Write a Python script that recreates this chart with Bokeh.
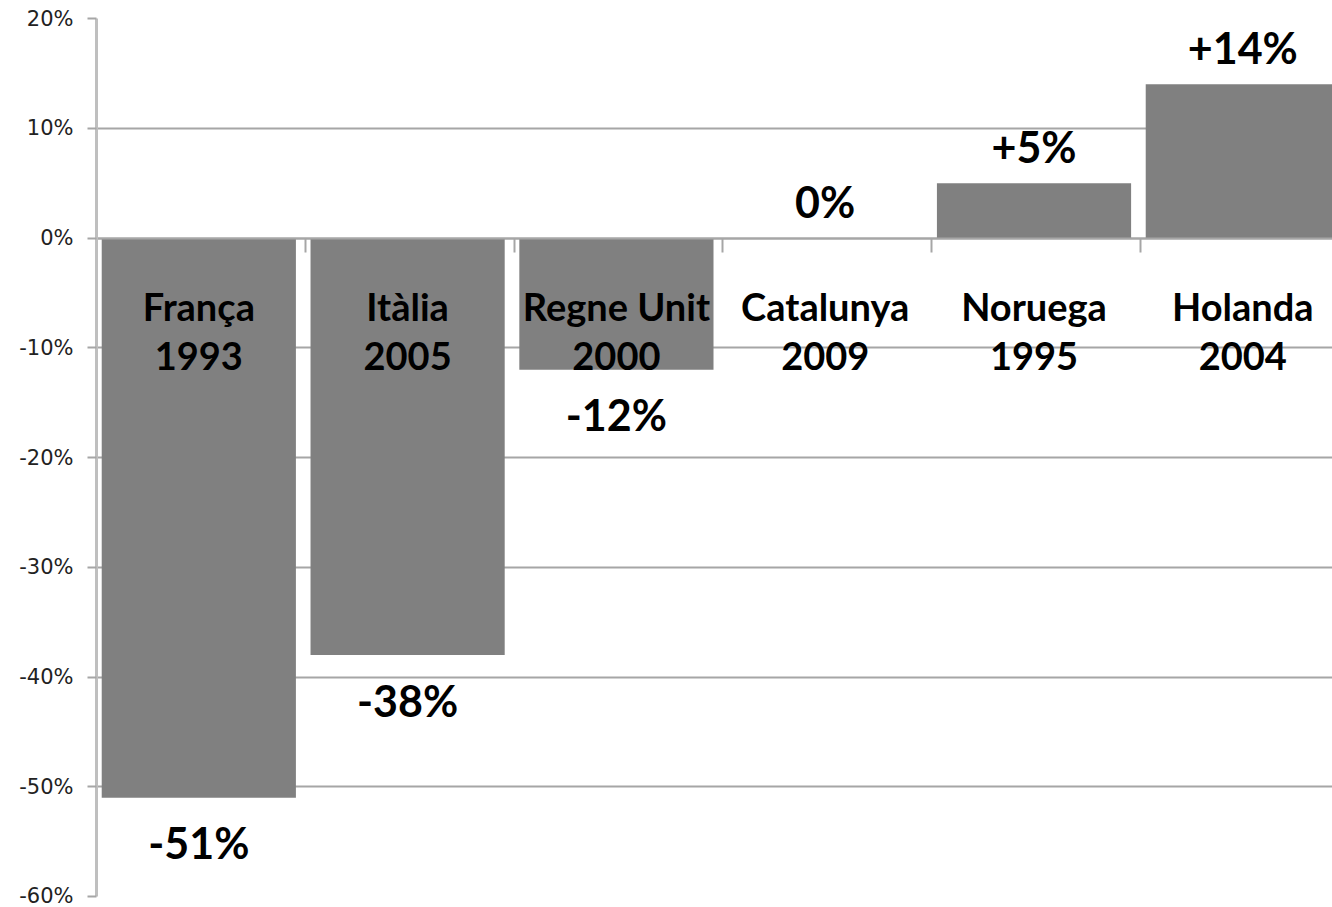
from bokeh.plotting import figure
from bokeh.models import ColumnDataSource, FixedTicker, PrintfTickFormatter, LinearAxis, Range1d
from bokeh.core.properties import value
from bokeh.embed import file_html
from bokeh.resources import INLINE

countries = ["França", "Itàlia", "Regne Unit", "Catalunya", "Noruega", "Holanda"]
years = ["1993", "2005", "2000", "2009", "1995", "2004"]
changes = [-51, -38, -12, 0, 5, 14]
value_labels = ["-51%", "-38%", "-12%", "0%", "+5%", "+14%"]
y_ticks = [-60, -50, -40, -30, -20, -10, 0, 10, 20]

xs = [i + 0.49 for i in range(len(countries))]
src = ColumnDataSource(dict(
    x=xs, top=changes, country=countries, year=years, label=value_labels,
    yoff=[45 if v < 0 else -37 for v in changes],
    y1=[-6.2] * len(xs), y2=[-10.75] * len(xs),
))

GRAY = "#a6a6a6"
p = figure(width=1332, height=907, output_backend="svg", toolbar_location=None,
           x_range=Range1d(0, 1236 / 208.8), y_range=Range1d(-60, 20),
           x_axis_location=None, min_border_left=96, min_border_right=0,
           min_border_top=18, min_border_bottom=11)
p.outline_line_color = None
p.xgrid.grid_line_color = None
p.ygrid.ticker = FixedTicker(ticks=y_ticks)
p.ygrid.grid_line_color = GRAY
p.ygrid.grid_line_width = 2

p.vbar(x="x", top="top", bottom=0, width=0.93, source=src,
       fill_color="#808080", line_color=None)

# y axis
ya = p.yaxis[0]
ya.ticker = FixedTicker(ticks=y_ticks)
ya.formatter = PrintfTickFormatter(format="%d%%")
ya.axis_line_color = "#bfbfbf"
ya.axis_line_width = 3
ya.major_tick_line_color = GRAY
ya.major_tick_line_width = 2
ya.major_tick_out = 9
ya.major_tick_in = 0
ya.minor_tick_line_color = None
ya.major_label_text_font = "DejaVu Sans"
ya.major_label_text_font_size = "21px"
ya.major_label_text_color = "#222222"
ya.major_label_standoff = 14

# category axis at 0
xa = LinearAxis(ticker=FixedTicker(ticks=[1, 2, 3, 4, 5]), fixed_location=0)
xa.axis_line_color = GRAY
xa.axis_line_width = 2
xa.major_tick_line_color = GRAY
xa.major_tick_line_width = 2
xa.major_tick_out = 14
xa.major_tick_in = 0
xa.minor_tick_line_color = None
xa.major_label_text_font_size = "0px"
xa.major_label_text_color = None
p.add_layout(xa, "below")

font = value("Lato")
p.text(x="x", y="y1", text="country", source=src, text_font=font, text_font_style="bold",
       text_font_size="38px", text_align="center", text_baseline="middle", text_color="#000000")
p.text(x="x", y="y2", text="year", source=src, text_font=font, text_font_style="bold",
       text_font_size="38px", text_align="center", text_baseline="middle", text_color="#000000")
p.text(x="x", y="top", text="label", y_offset="yoff", source=src, text_font=font,
       text_font_style="bold", text_font_size="43px", text_align="center",
       text_baseline="middle", text_color="#000000")

open("out.html", "w").write(file_html(p, INLINE))
